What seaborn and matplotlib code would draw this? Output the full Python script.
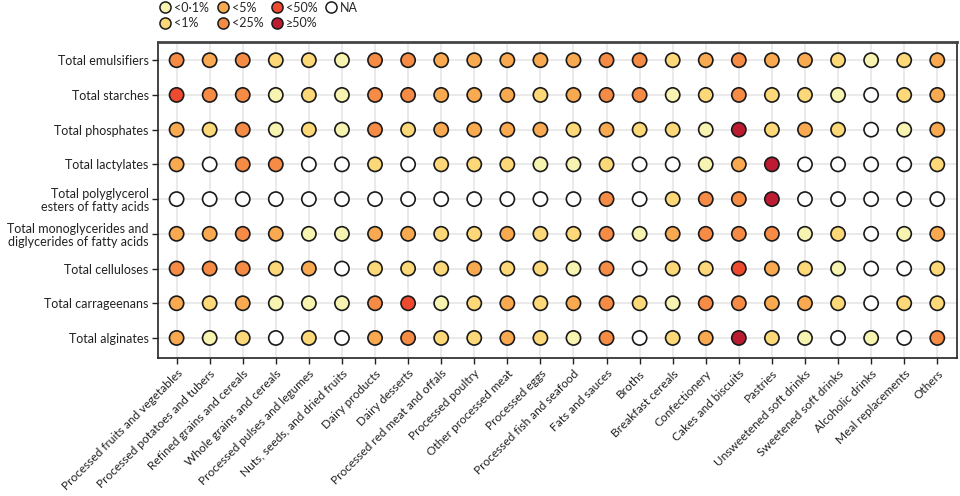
import numpy as np
import pandas as pd
import matplotlib
matplotlib.use("Agg")
import matplotlib.pyplot as plt
import seaborn as sns
from matplotlib.lines import Line2D

# Food groups (x axis)
food_groups = [
    "Processed fruits and vegetables", "Processed potatoes and tubers",
    "Refined grains and cereals", "Whole grains and cereals",
    "Processed pulses and legumes", "Nuts, seeds, and dried fruits",
    "Dairy products", "Dairy desserts", "Processed red meat and offals",
    "Processed poultry", "Other processed meat", "Processed eggs",
    "Processed fish and seafood", "Fats and sauces", "Broths",
    "Breakfast cereals", "Confectionery", "Cakes and biscuits", "Pastries",
    "Unsweetened soft drinks", "Sweetened soft drinks", "Alcoholic drinks",
    "Meal replacements", "Others",
]

# Additive groups (y axis, top to bottom)
additives = [
    "Total emulsifiers", "Total starches", "Total phosphates",
    "Total lactylates", "Total polyglycerol\nesters of fatty acids",
    "Total monoglycerides and\ndiglycerides of fatty acids",
    "Total celluloses", "Total carrageenans", "Total alginates",
]

categories = ["<0·1%", "<1%", "<5%", "<25%", "<50%", "≥50%", "NA"]
colors = ["#f7f4b1", "#fdd878", "#f9aa50", "#f58b45", "#ee4a2f", "#bd1b32", "#ffffff"]

# share of products, coded by category index (6 = NA)
emulsifiers    = [3, 2, 3, 1, 1, 0, 3, 3, 2, 2, 2, 2, 2, 3, 3, 1, 2, 3, 2, 2, 1, 0, 1, 2]
starches       = [4, 3, 3, 0, 1, 0, 3, 3, 2, 2, 2, 1, 2, 3, 3, 0, 1, 3, 1, 1, 0, 6, 1, 2]
phosphates     = [2, 1, 3, 0, 1, 0, 3, 1, 2, 2, 2, 2, 1, 2, 1, 1, 0, 5, 1, 2, 1, 6, 0, 2]
lactylates     = [2, 6, 3, 3, 6, 6, 1, 6, 1, 1, 1, 0, 0, 1, 6, 6, 0, 2, 5, 6, 6, 6, 6, 1]
polyglycerol   = [6, 6, 6, 6, 6, 6, 6, 6, 6, 6, 6, 6, 6, 3, 6, 1, 3, 3, 5, 6, 6, 6, 6, 6]
monoglycerides = [2, 2, 3, 2, 0, 0, 2, 2, 1, 1, 2, 1, 1, 3, 0, 2, 3, 3, 3, 0, 1, 6, 0, 2]
celluloses     = [3, 3, 3, 1, 2, 6, 1, 1, 1, 2, 1, 1, 0, 3, 6, 1, 1, 4, 2, 1, 0, 6, 6, 1]
carrageenans   = [2, 1, 2, 0, 0, 0, 3, 4, 0, 1, 2, 1, 2, 3, 1, 0, 3, 3, 2, 2, 1, 6, 1, 1]
alginates      = [2, 0, 1, 6, 1, 6, 2, 3, 1, 1, 2, 1, 0, 3, 6, 1, 2, 5, 1, 0, 6, 0, 6, 3]

rows = [emulsifiers, starches, phosphates, lactylates, polyglycerol,
        monoglycerides, celluloses, carrageenans, alginates]

records = []
for additive, values in zip(additives, rows):
    for food, code in zip(food_groups, values):
        records.append({"food": food, "additive": additive, "share": categories[code]})
df = pd.DataFrame(records)

sns.set_theme(style="white")
plt.rcParams["font.family"] = ["Lato", "DejaVu Sans"]

fig = plt.figure(figsize=(9.6, 4.96), dpi=100)
ax = fig.add_axes([0.165, 0.278, 0.832, 0.637])

palette = dict(zip(categories, colors))
sns.scatterplot(data=df, x="food", y="additive", hue="share", hue_order=categories,
                palette=palette, s=105, edgecolor="#1a1a1a", linewidth=1.2,
                legend=False, ax=ax, zorder=3)

ax.set_xlim(-0.55, len(food_groups) - 0.4)
ax.set_ylim(len(additives) - 0.42, -0.52)
ax.grid(True, color="#e6e6e6", linewidth=1.2, zorder=0)
ax.set_axisbelow(True)
ax.set_xlabel("")
ax.set_ylabel("")

for side in ["left", "right", "bottom"]:
    ax.spines[side].set_color("#222222")
    ax.spines[side].set_linewidth(1.2)
ax.spines["top"].set_color("#444444")
ax.spines["top"].set_linewidth(2)

ax.tick_params(axis="both", direction="out", length=4.5, width=1, color="#222222",
               labelsize=9, labelcolor="#222222", left=True, bottom=True, pad=2.5)
ax.set_xticks(range(len(food_groups)))
ax.set_xticklabels(food_groups, rotation=45, ha="right", rotation_mode="anchor",
                   fontsize=8.6)
ax.set_yticks(range(len(additives)))
ax.set_yticklabels(additives, linespacing=1.1)

handles = [Line2D([0], [0], marker="o", linestyle="", markersize=8,
                  markerfacecolor=c, markeredgecolor="#1a1a1a", markeredgewidth=1.1)
           for c in colors]
fig.legend(handles, categories, ncol=4, loc="upper left", bbox_to_anchor=(0.158, 1.012),
           frameon=False, fontsize=9, handletextpad=0.2, columnspacing=0.6,
           labelspacing=0.3, handlelength=1.0, borderaxespad=0.2)

plt.savefig("out.png", dpi=100)
plt.close()
